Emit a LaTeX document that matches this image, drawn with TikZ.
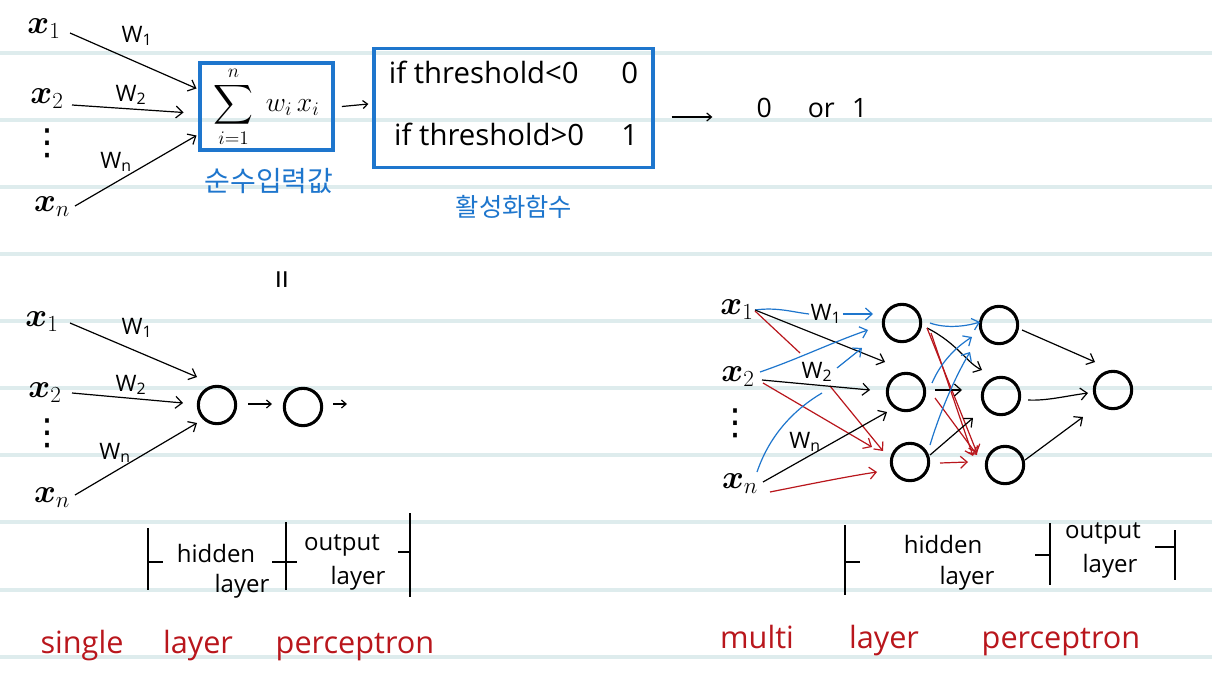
\documentclass[tikz,border=0pt]{standalone}
\usepackage{amsmath}
\usepackage{fontspec}
\setmainfont{Open Sans}
\newfontfamily\kr{Noto Sans CJK KR}
\newfontfamily\dv{DejaVu Sans}
\usetikzlibrary{arrows.meta,calc}
\definecolor{pblue}{RGB}{30,118,205}
\definecolor{pred}{RGB}{185,22,28}
\definecolor{rulec}{RGB}{222,236,237}
\tikzset{
  rulel/.style={draw=rulec, line width=2.4pt},
  arr/.style={line width=0.9pt, -{Straight Barb[length=5pt,width=9pt]}},
  sarr/.style={line width=0.9pt, -{Straight Barb[length=3.5pt,width=6pt]}},
  plain/.style={line width=0.9pt},
  neuron/.style={circle, draw, line width=2.3pt, minimum size=28pt, inner sep=0pt},
  xin/.style={font=\fontsize{23}{26}\selectfont, inner sep=0pt},
  vd/.style={font=\dv\fontsize{27}{27}\selectfont, inner sep=0pt},
  wlab/.style={font=\fontsize{17}{19}\selectfont, inner sep=1pt},
  blab/.style={font=\fontsize{18}{20}\selectfont, anchor=base, inner sep=0pt},
  rlab/.style={font=\fontsize{23}{26}\selectfont, text=pred, anchor=base, inner sep=0pt},
  kor/.style={font=\kr\fontsize{21}{24}\selectfont, text=pblue, inner sep=0pt},
  boxb/.style={draw=pblue, line width=2.6pt, inner sep=0pt},
  tick/.style={line width=1pt},
}
\begin{document}
\begin{tikzpicture}[x=0.75pt, y=-0.75pt]
\useasboundingbox (0,0) rectangle (1212,699);
\fill[white] (0,0) rectangle (1212,699);
% ruled lines
\foreach \yy in {53,120,187,254,321,388,455,522,590,657}
  \draw[rulel] (0,\yy) -- (1212,\yy);

% ---------------- top: perceptron ----------------
\node[xin] (tx1) at (44,29) {$\boldsymbol{x}_1$};
\node[xin] (tx2) at (47,99) {$\boldsymbol{x}_2$};
\node[vd] (tdots) at (47,143) {⋮};
\node[xin] (txn) at (52,207) {$\boldsymbol{x}_n$};
\node[wlab] (tw1) at (137,36) {W\textsubscript{1}};
\node[wlab] (tw2) at (131,95) {W\textsubscript{2}};
\node[wlab] (twn) at (116,162) {W\textsubscript{n}};

\node[boxb, minimum width=100pt, minimum height=65pt,
      font=\fontsize{21}{24}\selectfont] (sumbox) at (266.5,106.5)
  {$\displaystyle\sum_{i=1}^{n}\; w_i\,x_i$};
\node[kor] (kin) at (269,181) {순수입력값};

\node[boxb, minimum width=209pt, minimum height=89pt, inner sep=4pt,
      font=\fontsize{22}{24}\selectfont] (actbox) at (513.5,108)
  {\begin{tabular}{@{}l@{\hspace{28pt}}r@{}}
   if threshold<0 & 0\\[22pt]
   \hspace{4pt}if threshold>0 & 1
   \end{tabular}};
\node[kor, font=\kr\fontsize{19}{22}\selectfont] (kact) at (514,207) {활성화함수};
\node[font=\fontsize{20}{22}\selectfont, inner sep=0pt] (out) at (812,108)
  {0\hspace{27pt}or\hspace{13pt}1};

\draw[arr] ($(tx1)+(26,4)$) -- ($(sumbox)+(-70,-18)$);
\draw[arr] ($(tx2)+(25,6)$) -- ($(sumbox)+(-83,6)$);
\draw[arr] ($(txn)+(23,-1)$) -- ($(sumbox)+(-70,29)$);
\draw[sarr] ($(sumbox.east)+(7,0)$) -- ($(actbox.west)+(-4,-4)$);
\draw[sarr] ($(actbox.east)+(17,9)$) -- ($(out.west)+(-44,9)$);

% ---------------- bottom left: single layer ----------------
\node[font=\fontsize{26}{26}\selectfont, rotate=90, inner sep=0pt] (eq) at (286,280) {=};
\node[xin] (sx1) at (42,322) {$\boldsymbol{x}_1$};
\node[xin] (sx2) at (45,393) {$\boldsymbol{x}_2$};
\node[vd] (sdots) at (47,433) {⋮};
\node[xin] (sxn) at (52,498) {$\boldsymbol{x}_n$};
\node[wlab] (sw1) at (137,328) {W\textsubscript{1}};
\node[wlab] (sw2) at (131,385) {W\textsubscript{2}};
\node[wlab] (swn) at (115,453) {W\textsubscript{n}};
\node[neuron] (sh) at (217,405) {};
\node[neuron] (so) at (303,407) {};
\draw[arr] ($(sx1)+(28,1)$) -- ($(sh)+(-20,-28)$);
\draw[arr] ($(sx2)+(27,0)$) -- ($(sh)+(-34,-2)$);
\draw[arr] ($(sxn)+(23,-3)$) -- ($(sh)+(-20,18)$);
\draw[sarr] ($(sh)+(31,-1)$) -- ($(so)+(-31,-3)$);
\draw[sarr] ($(so)+(30,-3)$) -- ($(so)+(44,-3)$);

% brackets left
\draw[tick] (148,528) -- (148,590);
\draw[tick] (148,562) -- (163,562);
\draw[tick] (286,522) -- (286,590);
\draw[tick] (272,562) -- (297,562);
\draw[tick] (410,513) -- (410,597);
\draw[tick] (398,552) -- (410,552);
\node[blab] (lh1) at (216,562) {hidden};
\node[blab] (lh2) at (242,592) {layer};
\node[blab] (lo1) at (342,550) {output};
\node[blab] (lo2) at (358,584) {layer};
\node[rlab] (s1) at (82,653) {single};
\node[rlab] (s2) at (198,653) {layer};
\node[rlab] (s3) at (355,653) {perceptron};

% ---------------- bottom right: multi layer ----------------
\node[xin] (mx1) at (737,310) {$\boldsymbol{x}_1$};
\node[xin] (mx2) at (738,377) {$\boldsymbol{x}_2$};
\node[vd] (mdots) at (735,423) {⋮};
\node[xin] (mxn) at (740,484) {$\boldsymbol{x}_n$};
\node[wlab] (w1m) at (826,314) {W\textsubscript{1}};
\node[wlab] (w2m) at (817,372) {W\textsubscript{2}};
\node[wlab] (wnm) at (805,442) {W\textsubscript{n}};

\node[neuron] (h1) at (902,323) {};
\node[neuron] (h2) at (906,392) {};
\node[neuron] (h3) at (910,462) {};
\node[neuron] (g1) at (999,325) {};
\node[neuron] (g2) at (1001,396) {};
\node[neuron] (g3) at (1005,465) {};
\node[neuron] (o) at (1113,390) {};

% inputs -> hidden 1
\draw[plain, pblue] ($(mx1)+(18,0)$) .. controls ($(mx1)+(40,-3)$) and ($(mx1)+(55,2)$) .. (w1m.west);
\draw[arr, pblue] (w1m.east) -- ($(h1)+(-29,-9)$);
\draw[arr] ($(mx1)+(18,0)$) -- ($(h2)+(-21,-30)$);
\draw[plain, pred] ($(mx1)+(18,1)$) -- ($(w2m)+(-17,-19)$);
\draw[arr, pred] ($(w2m)+(13,14)$) -- ($(h3)+(-27,-11)$);
\draw[arr, pblue] ($(mx2)+(22,-5)$) .. controls ($(mx2)+(60,-18)$) and ($(mx2)+(95,-35)$) .. ($(h1)+(-34,7)$);
\draw[arr, pblue] ($(w2m)+(20,-4)$) -- ($(h1)+(-40,25)$);
\draw[arr] ($(mx2)+(24,3)$) -- ($(h2)+(-36,-2)$);
\draw[arr, pred] ($(mx2)+(25,6)$) -- ($(h3)+(-38,-15)$);
\draw[plain, pblue] ($(mxn)+(17,-12)$) .. controls ($(mxn)+(30,-50)$) and ($(mxn)+(55,-75)$) .. ($(w2m)+(5,21)$);
\draw[arr] ($(mxn)+(23,-2)$) -- ($(h2)+(-19,20)$);
\draw[arr, pred] ($(mxn)+(30,8)$) .. controls ($(mxn)+(70,0)$) and ($(mxn)+(110,-8)$) .. ($(h3)+(-33,10)$);

% hidden 1 -> hidden 2
\draw[arr, pblue] ($(h1)+(28,0)$) .. controls ($(h1)+(45,6)$) and ($(h1)+(65,3)$) .. ($(g1)+(-19,-3)$);
\draw[arr] ($(h1)+(25,5)$) .. controls ($(h1)+(55,20)$) and ($(h1)+(65,40)$) .. ($(g2)+(-19,-26)$);
\draw[arr, pred] ($(h1)+(25,5)$) -- ($(g3)+(-28,-12)$);
\draw[arr, pred] ($(h1)+(29,10)$) -- ($(g3)+(-32,-9)$);
\draw[arr, pblue] ($(h2)+(26,-9)$) .. controls ($(h2)+(35,-30)$) and ($(h2)+(50,-45)$) .. ($(g1)+(-27,12)$);
\draw[arr] ($(h2)+(29,-2)$) -- ($(g2)+(-39,-6)$);
\draw[arr, pred] ($(h2)+(29,6)$) -- ($(g3)+(-28,-10)$);
\draw[arr, pblue] ($(h3)+(20,-17)$) .. controls ($(h3)+(30,-50)$) and ($(h3)+(45,-85)$) .. ($(g1)+(-29,27)$);
\draw[arr] ($(h3)+(20,-7)$) -- ($(g2)+(-28,22)$);
\draw[arr, pred] ($(h3)+(30,1)$) -- ($(g3)+(-37,-3)$);

% hidden 2 -> output
\draw[arr] ($(g1)+(23,5)$) -- ($(o)+(-18,-28)$);
\draw[arr] ($(g2)+(27,4)$) .. controls ($(g2)+(45,5)$) and ($(g2)+(65,0)$) .. ($(o)+(-25,3)$);
\draw[arr] ($(g3)+(20,-5)$) -- ($(o)+(-30,27)$);

% brackets right
\draw[tick] (845,525) -- (845,595);
\draw[tick] (845,562) -- (860,562);
\draw[tick] (1050,523) -- (1050,585);
\draw[tick] (1035,555) -- (1050,555);
\draw[tick] (1175,530) -- (1175,580);
\draw[tick] (1155,547) -- (1175,547);
\node[blab] (rh1) at (943,553) {hidden};
\node[blab] (rh2) at (967,584) {layer};
\node[blab] (ro1) at (1103,538) {output};
\node[blab] (ro2) at (1110,572) {layer};
\node[rlab] (m1) at (757,648) {multi};
\node[rlab] (m2) at (884,648) {layer};
\node[rlab] (m3) at (1061,648) {perceptron};
\end{tikzpicture}
\end{document}
